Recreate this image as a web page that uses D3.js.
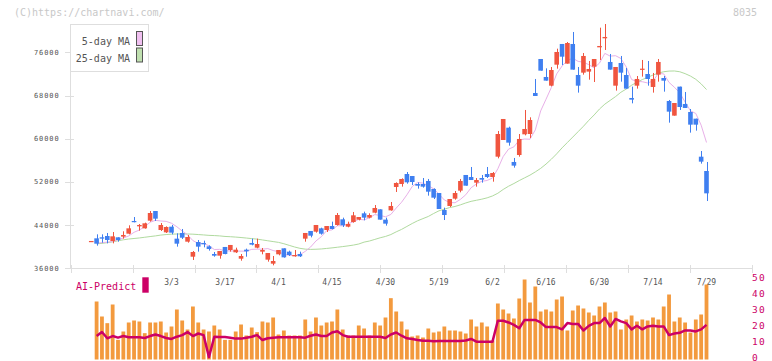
<!DOCTYPE html>
<html><head><meta charset="utf-8">
<script src="https://cdn.jsdelivr.net/npm/d3@7"></script>
<style>html,body{margin:0;padding:0;background:#fff;} svg{display:block}</style>
</head><body>
<svg id="c" width="772" height="361"></svg>
<script>
// ---- data (index 0 = lone doji before the first full session) ----
const openP  = [41060,41550,41740,41980,41060,41740,41860,42410,44760,43770,43400,44820,46610,43090,42660,43710,41490,42540,40930,38150,40870,40690,40070,38650,38340,39950,39390,38960,37780,39450,40690,39820,39080,37600,36860,38590,39700,39080,38220,38650,41490,42910,42780,43400,43090,43830,44020,45070,43710,44570,45010,46180,45380,46300,46920,45010,46730,51060,51610,53460,53090,51610,51610,52170,50690,49940,46800,47540,48900,50380,53280,52910,51860,52720,53460,52910,56670,59760,62040,55690,56980,60810,60870,68460,74760,71430,69820,73710,77540,73900,77540,71800,72230,72420,73340,76920,78590,74210,69820,74020,71800,67540,69820,72790,71980,69580,71860,71240,66980,64270,69640,66430,64950,63710,56670,54020];
const highP  = [41060,42290,42290,42540,42720,41740,42850,43960,45500,44200,44450,46610,46610,44390,43770,44020,42480,43280,42170,39200,41240,41120,40250,39020,39200,39950,40320,39820,38650,39640,41490,41490,39760,38830,38280,39390,39700,39270,39390,39080,42540,42910,44020,43520,43830,44640,46240,45380,44640,46430,45500,46490,46180,47720,46920,45380,48280,51920,52660,53830,53090,51920,52720,52540,50810,49940,47230,48830,50320,52540,53280,54760,52720,53280,54760,53830,61430,63650,62230,56430,60870,65320,63960,71060,74760,73030,73280,76670,77540,77910,79760,73280,75870,74390,74760,80560,81240,75690,73280,75320,73090,69640,71610,74580,74390,72170,74760,71610,67170,66610,69640,68650,65500,63710,57720,55690];
const lowP   = [41060,40190,40750,40620,40620,40930,41490,42290,44510,42970,43340,44640,44760,42910,42540,42290,40010,41430,40750,37540,39080,39880,39270,38150,37780,38590,39080,38830,37410,38150,40250,39700,38590,37230,36550,38400,37970,38280,38150,38090,40930,41730,42600,42230,42720,43220,43900,43650,43590,44450,44880,44880,45250,46180,45010,43900,46670,50130,51120,51670,51430,50750,50930,49450,48830,46980,44940,47350,48710,50070,51300,52350,51120,51860,52720,52040,56360,59760,58710,54640,56670,60620,60130,67910,72600,70750,69700,72970,73650,73900,72790,68530,71860,70930,70500,74580,76430,72790,68900,70560,69270,66550,69270,71490,69820,68530,70560,68710,62970,64270,65320,65690,61120,61490,55380,48460];
const closeP = [41060,40560,41490,41240,41920,41240,42170,43400,44640,44020,44330,46240,45190,44020,43650,42600,40560,41670,41800,39020,40010,40440,39570,38340,39200,38650,40320,39450,38280,39140,40380,40500,39390,38830,37350,39390,38030,38460,38460,38220,42540,42040,44020,42410,43830,43280,45870,43960,44200,45810,45500,45380,45870,47170,45010,44270,47540,51800,52540,51920,51980,51300,51120,50190,49080,46980,45870,48830,49940,52170,51300,52350,52350,52410,52910,53650,60870,63650,59270,55010,59950,61800,63460,67910,72600,70750,72720,76060,75190,77720,72790,69820,75320,72910,74760,77170,78840,72790,73280,72230,69270,67230,71060,72970,71060,71060,74210,70750,65010,66610,65870,65690,62600,62600,55750,49880];

// 5-day and 25-day moving averages, sessions 1..115
const ma5  = [40650,40750,40850,40950,41290,41610,41990,42670,43090,43710,44530,44880,44760,44690,44340,43700,42900,42200,41130,40610,40590,40170,39480,39510,39240,39220,39190,39180,39170,39510,39550,39540,39650,39290,39090,38600,38410,38340,38510,39140,39940,41060,41850,42970,43120,43880,43870,44230,44620,45070,44970,45350,45950,45790,45540,45970,47160,48230,49610,51160,51910,51770,51300,50730,49730,48650,48190,48140,48760,49620,50920,51620,52120,52260,52730,54440,56700,58070,58490,59750,59940,59900,61630,65140,67300,69490,72010,73460,74490,74900,74320,74170,73710,73120,74000,75800,75290,75370,74860,73280,70960,70610,70550,70320,70680,72070,72010,70420,69530,68490,66790,65160,64670,62500,59300];
const ma25 = [40520,40620,40750,40900,41100,41280,41420,41520,41620,41750,41880,42000,42150,42250,42320,42350,42360,42350,42320,42250,42180,42100,42060,42000,41900,41850,41780,41700,41600,41500,41400,41250,41100,40950,40800,40550,40250,39950,39700,39550,39500,39530,39580,39680,39780,39900,40020,40150,40300,40500,40850,41050,41350,41650,41900,42250,42750,43200,43750,44300,44800,45200,45600,46150,46650,46950,47250,47450,47750,48100,48400,48600,48800,49050,49400,49900,50600,51200,51700,52250,52750,53250,53850,54500,55300,56200,57200,58300,59300,60300,61300,62300,63400,64400,65500,66400,67100,67800,68600,69200,69900,70450,70950,71350,71800,72150,72400,72520,72540,72400,72050,71600,71000,70150,69100];

// volume (thousand shares) and AI-Predict score, sessions 1..115
const volume = [3480,2580,2180,3300,1180,1680,2220,2340,2280,1580,2220,2220,2280,1620,1980,3000,2340,1800,3180,2220,1800,1680,2040,1800,1180,1180,1680,2100,1440,1920,1640,2280,2220,2520,1500,1740,1440,1440,1440,2400,1680,2520,2040,2220,2280,3000,1800,1440,1440,2040,1860,1440,2220,2040,2520,3680,2880,2280,1800,1380,1440,1320,1860,1620,1680,1980,1740,1740,1680,1560,2400,1980,2220,1980,1140,3360,3000,2760,2460,3660,4800,3420,4380,2880,3000,2880,3600,3780,1740,2940,3240,3060,2820,2640,3180,3420,2820,2880,1800,2400,2640,2280,2400,2340,2520,2400,3180,3900,2280,2520,2220,1620,2400,2700,4500];
const aiScore = [13.4,15.9,12.0,13.4,12.4,13.4,12.6,12.6,12.6,12.2,13.4,14.4,13.4,12.2,11.6,13.0,14.0,15.9,13.4,15.0,14.0,0.2,13.0,12.8,12.8,12.4,11.8,11.8,12.4,13.0,14.0,10.9,12.0,12.4,12.6,12.6,12.6,12.6,12.6,12.4,13.6,14.4,13.4,13.4,15.6,16.4,14.0,13.0,13.0,13.0,13.0,13.0,13.0,13.0,12.2,14.4,15.6,13.6,12.0,11.6,10.9,10.5,10.5,10.1,10.3,10.3,10.3,10.3,10.3,10.6,11.6,9.9,9.9,9.9,9.9,23.0,23.0,21.9,20.4,18.3,23.5,23.5,23.5,21.9,19.0,19.0,19.0,17.6,21.5,21.0,21.0,16.9,19.8,21.5,21.5,24.7,19.4,24.1,22.6,21.5,17.6,19.8,17.6,19.4,19.8,19.4,19.4,14.0,15.0,15.4,16.9,16.9,16.3,17.6,20.4];

// axis labels
const priceTicks = [36000,44000,52000,60000,68000,76000];
const aiTicks = [0,10,20,30,40,50];
const dateLabels = ["3/3","3/17","4/1","4/15","4/30","5/19","6/2","6/16","6/30","7/14","7/29"];
const dateLabelIdx = [15,25,35,45,55,65,75,85,95,105,115];

// ---- drawing ----
const svg = d3.select("#c");
const mono = "'DejaVu Sans Mono', monospace";
const RED = "#f0553f", BLUE = "#3f7ff0";

const x = d3.scaleLinear().domain([0,115]).range([91.25,706.5]);
const y = d3.scaleLinear().domain([36000,76000]).range([268.3,52.3]);
const yAI = d3.scaleLinear().domain([0,50]).range([357.5,277.5]);
const yVol = d3.scaleLinear().domain([0,4860]).range([359.5,278.5]);

// watermark + code
svg.append("text").attr("x",14).attr("y",16).attr("font-family",mono).attr("font-size",10)
  .attr("fill","#c8c8c8").text("(C)https://chartnavi.com/");
svg.append("text").attr("x",757).attr("y",16).attr("text-anchor","end").attr("font-family",mono)
  .attr("font-size",10).attr("fill","#c8c8c8").text("8035");

// y axis
svg.append("line").attr("x1",70.5).attr("x2",70.5).attr("y1",24).attr("y2",268.5)
  .attr("stroke","#dedede");
const yt = svg.append("g");
priceTicks.forEach(v=>{
  yt.append("line").attr("x1",65).attr("x2",74).attr("y1",Math.round(y(v))+0.5).attr("y2",Math.round(y(v))+0.5)
    .attr("stroke","#dedede");
  yt.append("text").attr("x",59.5).attr("y",y(v)+2.5).attr("text-anchor","end")
    .attr("font-family",mono).attr("font-size",7).attr("letter-spacing",0.9).attr("fill","#555").text(v);
});

// x axis line + ticks
svg.append("line").attr("x1",70.5).attr("x2",752.5).attr("y1",268.5).attr("y2",268.5).attr("stroke","#dedede");
d3.range(12).forEach(k=>{
  const xx = Math.round(70.7 + k*61.9)+0.5;
  svg.append("line").attr("x1",xx).attr("x2",xx).attr("y1",265).attr("y2",273).attr("stroke","#dedede");
});
dateLabels.forEach((t,i)=>{
  svg.append("text").attr("x",x(dateLabelIdx[i])).attr("y",285).attr("text-anchor","middle")
    .attr("font-family",mono).attr("font-size",8).attr("fill","#555").text(t);
});

// moving averages
const maLine = d3.line().x((d,i)=>x(i+1)).y(d=>y(d));
svg.append("path").attr("d",maLine(ma25)).attr("fill","none").attr("stroke","#b0da9f").attr("stroke-width",1);
svg.append("path").attr("d",maLine(ma5)).attr("fill","none").attr("stroke","#e8b0e8").attr("stroke-width",1);

// candles
const cw = 4.6;
const cg = svg.append("g");
openP.forEach((o,k)=>{
  const c = closeP[k], h = highP[k], l = lowP[k];
  const col = c >= o ? RED : BLUE;
  const cx = x(k);
  cg.append("line").attr("x1",Math.round(cx)+0.5).attr("x2",Math.round(cx)+0.5)
    .attr("y1",y(h)).attr("y2",y(l)).attr("stroke",col).attr("stroke-width",1);
  const top = y(Math.max(o,c)), bot = y(Math.min(o,c));
  cg.append("rect").attr("x",cx-cw/2).attr("y",top).attr("width",cw).attr("height",Math.max(1.2,bot-top))
    .attr("fill",col);
});

// legend
svg.append("rect").attr("x",70.5).attr("y",24.5).attr("width",78).attr("height",47)
  .attr("fill","#fff").attr("stroke","#dedede");
[["5-day MA","#f0c0f0",45],["25-day MA","#c0e0b0",61.5]].forEach(([t,c,yy])=>{
  svg.append("text").attr("x",130).attr("y",yy).attr("text-anchor","end").attr("font-family",mono)
    .attr("font-size",10).attr("fill","#555").text(t);
  svg.append("rect").attr("x",136.5).attr("y",yy-13.5).attr("width",6).attr("height",14)
    .attr("fill",c).attr("stroke","#555");
});

// volume bars
const vg = svg.append("g");
volume.forEach((v,i)=>{
  vg.append("rect").attr("x",x(i+1)-1.9).attr("y",yVol(v)).attr("width",3.8).attr("height",yVol(0)-yVol(v))
    .attr("fill","#f39a3e");
});

// AI-Predict line
const aiLine = d3.line().x((d,i)=>x(i+1)).y(d=>yAI(d));
svg.append("path").attr("d",aiLine(aiScore)).attr("fill","none").attr("stroke","#cc0066")
  .attr("stroke-width",2.5).attr("stroke-linejoin","round");

// AI-Predict label + right axis
svg.append("text").attr("x",76).attr("y",290).attr("font-family",mono).attr("font-size",10)
  .attr("fill","#cc0066").text("AI-Predict");
svg.append("rect").attr("x",142.3).attr("y",277.3).attr("width",6.4).attr("height",15.4).attr("fill","#cc0066");
aiTicks.forEach(v=>{
  svg.append("text").attr("x",752).attr("y",yAI(v)+3).attr("font-family",mono).attr("font-size",9.5)
    .attr("letter-spacing",1.2).attr("fill","#cc0066").text(v);
});
</script>
</body></html>
